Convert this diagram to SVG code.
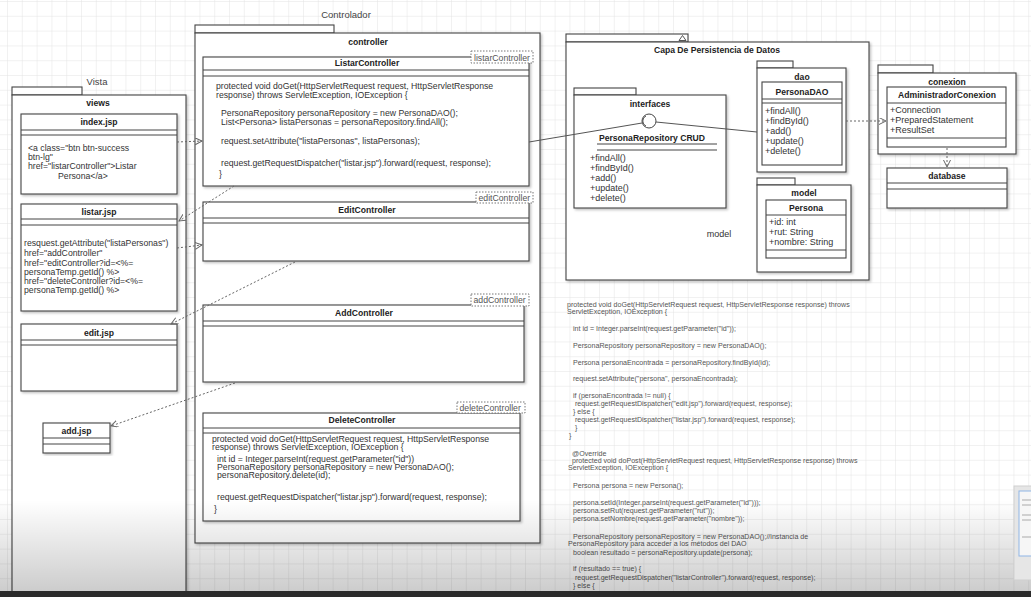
<svg xmlns="http://www.w3.org/2000/svg" width="1031" height="597" viewBox="0 0 1031 597">
<defs>
<pattern id="grid" x="8" y="2" width="14.8" height="14.8" patternUnits="userSpaceOnUse">
<path d="M14.8 0 V14.8 M0 14.8 H14.8" fill="none" stroke="#e4e4e4" stroke-width="1"/>
</pattern>
<filter id="sh" x="-5%" y="-5%" width="115%" height="115%">
<feDropShadow dx="1.5" dy="1.5" stdDeviation="0.8" flood-color="#000" flood-opacity="0.25"/>
</filter>
<marker id="arr" markerWidth="9" markerHeight="9" refX="7" refY="3.5" orient="auto" markerUnits="userSpaceOnUse">
<path d="M0,0 L7,3.5 L0,7" fill="none" stroke="#666" stroke-width="1"/>
</marker>
<linearGradient id="fade" x1="0" y1="0" x2="0" y2="1">
<stop offset="0" stop-color="#000" stop-opacity="0"/>
<stop offset="1" stop-color="#000" stop-opacity="0.2"/>
</linearGradient>
<style>
.pk{fill:#fff;stroke:#444;stroke-width:1.1}
.cl{fill:#fff;stroke:#444;stroke-width:1.1}
.sep{stroke:#444;stroke-width:1}
text{font-family:"Liberation Sans",Arial,sans-serif;fill:#333}
.b{font-weight:bold;font-size:8.6px;text-anchor:middle;fill:#222}
.c{font-size:8.7px}
.m{font-size:9px}
.lb{fill:#fff;stroke:#777;stroke-dasharray:1.5,1.5;stroke-width:1}
.lt{font-size:8.7px;fill:#555}
.dash{fill:none;stroke:#666;stroke-width:1;stroke-dasharray:2,2}
.sol{fill:none;stroke:#555;stroke-width:1}
.code{font-size:7.1px;fill:#555}
.cap{font-size:9.5px;fill:#444;text-anchor:middle}
</style>
</defs>
<rect width="1031" height="597" fill="#fff"/>
<rect width="1031" height="597" fill="url(#grid)"/>

<text class="cap" x="97" y="85">Vista</text>
<text class="cap" x="346" y="18">Controlador</text>

<g id="pkg-views">
<rect class="pk" x="12" y="87" width="70" height="8"/>
<rect class="pk" x="12" y="95" width="174" height="510" filter="url(#sh)"/>
<text class="b" x="98" y="106">views</text>
</g>

<g id="pkg-controller">
<rect class="pk" x="195" y="25" width="139" height="8"/>
<rect class="pk" x="195" y="33" width="345" height="510" filter="url(#sh)"/>
<text class="b" x="368" y="45">controller</text>
</g>

<g id="pkg-persistencia">
<rect class="pk" x="566" y="34" width="122" height="8"/>
<path d="M679,40.5 L682.5,35.5 L686,40.5 Z" fill="none" stroke="#444" stroke-width="0.9"/>
<rect class="pk" x="566" y="42" width="303" height="238" filter="url(#sh)"/>
<text class="b" x="717" y="53">Capa De Persistencia de Datos</text>
<text class="m" x="719" y="237" text-anchor="middle" fill="#555">model</text>
</g>

<g id="pkg-interfaces">
<rect class="pk" x="574" y="88" width="62" height="7"/>
<rect class="pk" x="574" y="95" width="152" height="113" filter="url(#sh)"/>
<text class="b" x="650" y="107">interfaces</text>
</g>

<g id="PersonaRepository">
<circle cx="649" cy="121" r="7" fill="#fff" stroke="#444" stroke-width="1"/>
<path d="M646,116 A5.5,5.5 0 0 0 646,126" fill="none" stroke="#444" stroke-width="0.9"/>
<text class="b" x="652" y="141">PersonaRepository CRUD</text>
<line class="sep" x1="597" y1="144" x2="717" y2="144"/>
<line class="sep" x1="597" y1="150" x2="717" y2="150"/>
<text class="m" x="590" y="161">+findAll()</text>
<text class="m" x="590" y="171">+findById()</text>
<text class="m" x="590" y="181">+add()</text>
<text class="m" x="590" y="191">+update()</text>
<text class="m" x="590" y="201">+delete()</text>
</g>

<g id="pkg-dao">
<rect class="pk" x="757" y="61" width="36" height="7"/>
<rect class="pk" x="757" y="68" width="89" height="104" filter="url(#sh)"/>
<text class="b" x="802" y="80">dao</text>
</g>

<g id="PersonaDAO">
<rect class="cl" x="762" y="82" width="80" height="83"/>
<text class="b" x="802" y="95">PersonaDAO</text>
<line class="sep" x1="762" y1="99" x2="842" y2="99"/>
<line class="sep" x1="762" y1="103" x2="842" y2="103"/>
<text class="m" x="765" y="114">+findAll()</text>
<text class="m" x="765" y="124">+findById()</text>
<text class="m" x="765" y="134">+add()</text>
<text class="m" x="765" y="144">+update()</text>
<text class="m" x="765" y="154">+delete()</text>
</g>

<g id="pkg-model">
<rect class="pk" x="757" y="178" width="38" height="7"/>
<rect class="pk" x="757" y="185" width="94" height="87" filter="url(#sh)"/>
<text class="b" x="804" y="196">model</text>
</g>

<g id="Persona">
<rect class="cl" x="766" y="200" width="80" height="58"/>
<text class="b" x="806" y="211">Persona</text>
<line class="sep" x1="766" y1="215" x2="846" y2="215"/>
<text class="m" x="769" y="225">+id: int</text>
<text class="m" x="769" y="235">+rut: String</text>
<text class="m" x="769" y="245">+nombre: String</text>
<line class="sep" x1="766" y1="250" x2="846" y2="250"/>
</g>

<g id="pkg-conexion">
<rect class="pk" x="878" y="65" width="55" height="8"/>
<rect class="pk" x="878" y="73" width="138" height="81" filter="url(#sh)"/>
<text class="b" x="947" y="85">conexion</text>
</g>

<g id="AdministradorConexion">
<rect class="cl" x="887" y="87" width="119" height="60"/>
<text class="b" x="947" y="98">AdministradorConexion</text>
<line class="sep" x1="887" y1="103" x2="1006" y2="103"/>
<text class="m" x="890" y="113">+Connection</text>
<text class="m" x="890" y="123">+PreparedStatement</text>
<text class="m" x="890" y="133">+ResultSet</text>
<line class="sep" x1="887" y1="138" x2="1006" y2="138"/>
</g>

<g id="database">
<rect class="cl" x="887" y="168" width="120" height="40" filter="url(#sh)"/>
<text class="b" x="947" y="179">database</text>
<line class="sep" x1="887" y1="183" x2="1007" y2="183"/>
<line class="sep" x1="887" y1="189" x2="1007" y2="189"/>
</g>

<g id="index-jsp">
<rect class="cl" x="21" y="114" width="156" height="80" filter="url(#sh)"/>
<text class="b" x="99" y="125">index.jsp</text>
<line class="sep" x1="21" y1="130" x2="177" y2="130"/>
<line class="sep" x1="21" y1="135" x2="177" y2="135"/>
<text class="c" x="28" y="151">&lt;a class="btn btn-success</text>
<text class="c" x="28" y="160">btn-lg"</text>
<text class="c" x="28" y="169">href="listarController"&gt;Listar</text>
<text class="c" x="58" y="179">Persona&lt;/a&gt;</text>
</g>

<g id="listar-jsp">
<rect class="cl" x="21" y="204" width="156" height="107" filter="url(#sh)"/>
<text class="b" x="99" y="215">listar.jsp</text>
<line class="sep" x1="21" y1="219" x2="177" y2="219"/>
<line class="sep" x1="21" y1="225" x2="177" y2="225"/>
<text class="c" x="24" y="246">resquest.getAttribute("listaPersonas")</text>
<text class="c" x="24" y="256">href="addController"</text>
<text class="c" x="24" y="266">href="editController?id=&lt;%=</text>
<text class="c" x="24" y="275">personaTemp.getId() %&gt;</text>
<text class="c" x="24" y="284">href="deleteController?id=&lt;%=</text>
<text class="c" x="24" y="293">personaTemp.getId() %&gt;</text>
</g>

<g id="edit-jsp">
<rect class="cl" x="21" y="324" width="156" height="67" filter="url(#sh)"/>
<text class="b" x="99" y="336">edit.jsp</text>
<line class="sep" x1="21" y1="340" x2="177" y2="340"/>
<line class="sep" x1="21" y1="345" x2="177" y2="345"/>
</g>

<g id="add-jsp">
<rect class="cl" x="43" y="423" width="67" height="30" filter="url(#sh)"/>
<text class="b" x="76.5" y="434">add.jsp</text>
<line class="sep" x1="43" y1="438" x2="110" y2="438"/>
<line class="sep" x1="43" y1="444" x2="110" y2="444"/>
</g>

<g id="ListarController">
<rect class="cl" x="203" y="57" width="326" height="129" filter="url(#sh)"/>
<text class="b" x="367" y="66">ListarController</text>
<line class="sep" x1="203" y1="70" x2="529" y2="70"/>
<line class="sep" x1="203" y1="76" x2="529" y2="76"/>
<text class="c" x="216" y="89">protected void doGet(HttpServletRequest request, HttpServletResponse</text>
<text class="c" x="216" y="98">response) throws ServletException, IOException {</text>
<text class="c" x="221" y="116">PersonaRepository personaRepository = new PersonaDAO();</text>
<text class="c" x="221" y="125">List&lt;Persona&gt; listaPersonas = personaRepository.findAll();</text>
<text class="c" x="221" y="144">request.setAttribute("listaPersonas", listaPersonas);</text>
<text class="c" x="221" y="166">request.getRequestDispatcher("listar.jsp").forward(request, response);</text>
<text class="c" x="219" y="177">}</text>
<rect class="lb" x="471" y="51" width="62" height="12"/>
<text class="lt" x="474" y="60.5">listarController</text>
</g>

<g id="EditController">
<rect class="cl" x="203" y="202" width="326" height="59" filter="url(#sh)"/>
<text class="b" x="367" y="213">EditController</text>
<line class="sep" x1="203" y1="218" x2="529" y2="218"/>
<line class="sep" x1="203" y1="223" x2="529" y2="223"/>
<rect class="lb" x="476" y="192" width="57" height="11"/>
<text class="lt" x="478.5" y="200.5">editController</text>
</g>

<g id="AddController">
<rect class="cl" x="203" y="305" width="321" height="77" filter="url(#sh)"/>
<text class="b" x="364" y="316">AddController</text>
<line class="sep" x1="203" y1="321" x2="524" y2="321"/>
<line class="sep" x1="203" y1="326" x2="524" y2="326"/>
<rect class="lb" x="471" y="294" width="58" height="12"/>
<text class="lt" x="473.5" y="303">addController</text>
</g>

<g id="DeleteController">
<rect class="cl" x="203" y="413" width="317" height="108" filter="url(#sh)"/>
<text class="b" x="362" y="423">DeleteController</text>
<line class="sep" x1="203" y1="428" x2="520" y2="428"/>
<line class="sep" x1="203" y1="433" x2="520" y2="433"/>
<text class="c" x="212" y="442">protected void doGet(HttpServletRequest request, HttpServletResponse</text>
<text class="c" x="212" y="450">response) throws ServletException, IOException {</text>
<text class="c" x="217" y="462">int id = Integer.parseInt(request.getParameter("id"))</text>
<text class="c" x="217" y="470">PersonaRepository personaRepository = new PersonaDAO();</text>
<text class="c" x="217" y="478">personaRepository.delete(id);</text>
<text class="c" x="217" y="500">request.getRequestDispatcher("listar.jsp").forward(request, response);</text>
<text class="c" x="214" y="512">}</text>
<rect class="lb" x="457" y="402" width="68" height="11"/>
<text class="lt" x="459.5" y="410.5">deleteController</text>
</g>

<g id="connectors">
<line class="dash" x1="177" y1="142" x2="202" y2="141" marker-end="url(#arr)"/>
<line class="dash" x1="234" y1="186" x2="179" y2="221" marker-end="url(#arr)"/>
<line class="dash" x1="177" y1="248" x2="202" y2="245" marker-end="url(#arr)"/>
<line class="dash" x1="295" y1="262" x2="171" y2="324" marker-end="url(#arr)"/>
<line class="dash" x1="235" y1="383" x2="111" y2="426" marker-end="url(#arr)"/>
<line class="sol" x1="529" y1="142" x2="642" y2="123"/>
<line class="sol" x1="656" y1="122" x2="757" y2="132"/>
<line class="dash" x1="846" y1="121" x2="886" y2="121" marker-end="url(#arr)"/>
<line class="dash" x1="947" y1="148" x2="947" y2="167" marker-end="url(#arr)"/>
</g>

<g id="code-notes">
<text class="code" x="567" y="306.5">protected void doGet(HttpServletRequest request, HttpServletResponse response) throws</text>
<text class="code" x="567" y="313.5">ServletException, IOException {</text>
<text class="code" x="573" y="330.5">int id = Integer.parseInt(request.getParameter("id"));</text>
<text class="code" x="573" y="347.5">PersonaRepository personaRepository = new PersonaDAO();</text>
<text class="code" x="573" y="364.5">Persona personaEncontrada = personaRepository.findById(id);</text>
<text class="code" x="573" y="380.5">request.setAttribute("persona", personaEncontrada);</text>
<text class="code" x="573" y="397.5">if (personaEncontrada != null) {</text>
<text class="code" x="575" y="405.5">request.getRequestDispatcher("edit.jsp").forward(request, response);</text>
<text class="code" x="573" y="413.5">} else {</text>
<text class="code" x="575" y="421.5">request.getRequestDispatcher("listar.jsp").forward(request, response);</text>
<text class="code" x="575" y="429.5">}</text>
<text class="code" x="569" y="437.5">}</text>
<text class="code" x="572" y="455.5">@Override</text>
<text class="code" x="572" y="463">protected void doPost(HttpServletRequest request, HttpServletResponse response) throws</text>
<text class="code" x="568" y="470">ServletException, IOException {</text>
<text class="code" x="573" y="487.5">Persona persona = new Persona();</text>
<text class="code" x="573" y="504.5">persona.setId(Integer.parseInt(request.getParameter("id")));</text>
<text class="code" x="573" y="512.5">persona.setRut(request.getParameter("rut"));</text>
<text class="code" x="573" y="520.5">persona.setNombre(request.getParameter("nombre"));</text>
<text class="code" x="573" y="538.5">PersonaRepository personaRepository = new PersonaDAO();//instancia de</text>
<text class="code" x="568" y="545.5">PersonaRepository para acceder a los métodos del DAO</text>
<text class="code" x="573" y="554.5">boolean resultado = personaRepository.update(persona);</text>
<text class="code" x="573" y="570.5">if (resultado == true) {</text>
<text class="code" x="575" y="579.5">request.getRequestDispatcher("listarController").forward(request, response);</text>
<text class="code" x="573" y="587.5">} else {</text>
</g>

<rect x="0" y="500" width="1031" height="92" fill="url(#fade)"/>
<g id="side-window">
<rect x="1014" y="486" width="20" height="94" fill="#e6e6e6" stroke="#cfcfcf"/>
<rect x="1019" y="491" width="14" height="65" fill="#f6f6f6" stroke="#8fb5e6"/>
<path d="M1022,500 H1031 M1022,505 H1031 M1022,515 H1031 M1022,520 H1031 M1022,537 H1031" stroke="#aaa" stroke-width="1"/>
</g>
<rect x="0" y="591" width="1031" height="6" fill="#2b2b2b"/>
</svg>
